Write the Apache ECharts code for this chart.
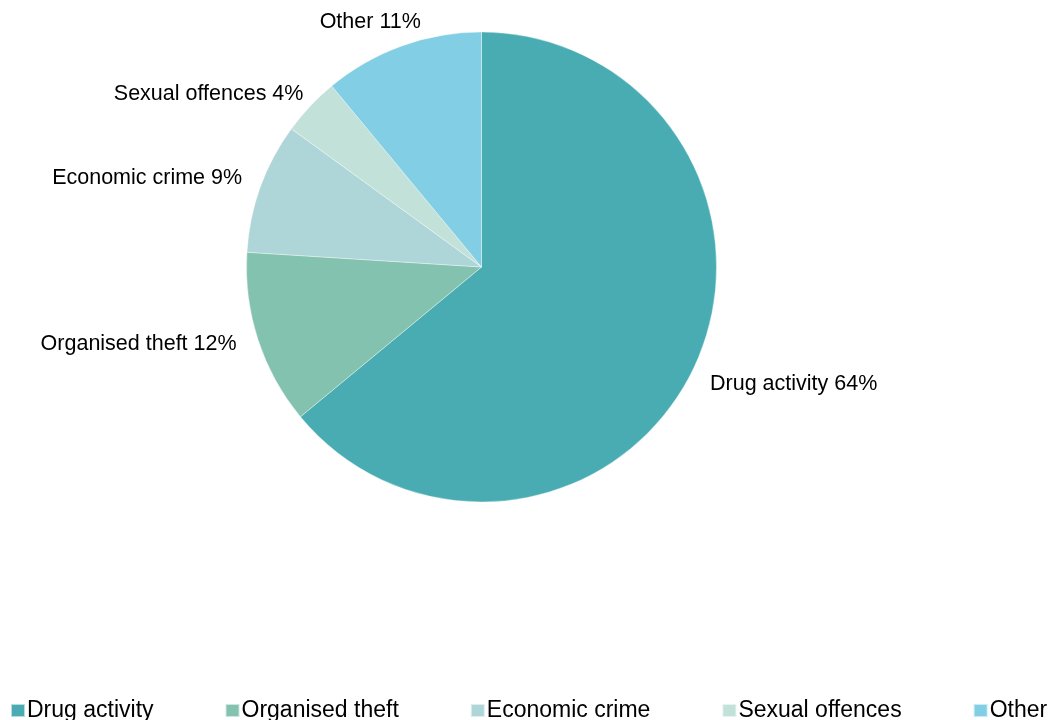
<!DOCTYPE html>
<html>
<head>
<meta charset="utf-8">
<script src="https://cdn.jsdelivr.net/npm/echarts@6/dist/echarts.min.js"></script>
<style>
html,body{margin:0;padding:0;background:#fff;}
#chart{width:1056px;height:720px;}
</style>
</head>
<body>
<div id="chart"></div>
<script>
const categories = ['Drug activity', 'Organised theft', 'Economic crime', 'Sexual offences', 'Other'];
const values = [64, 12, 9, 4, 11];
const colors = ['#48ACB2', '#83C2AF', '#AED5D8', '#C2E1D8', '#82CEE4'];
// small nudges so outside labels sit where the reference places them
const labelNudges = [[0, 12], [-5, 1], [-2, -5], [7, -4], [28, -13]];

const chart = echarts.init(document.getElementById('chart'), null, {renderer: 'canvas'});
const font = '"Liberation Sans", Arial, sans-serif';
chart.setOption({
  animation: false,
  color: colors,
  legend: {
    data: categories,
    left: 5,
    top: 694,
    itemWidth: 14,
    itemHeight: 13,
    itemGap: 71,
    icon: 'rect',
    textStyle: {fontFamily: font, fontSize: 23, color: '#000', padding: [0, 0, 0, -3]}
  },
  series: [{
    type: 'pie',
    center: [481.5, 267],
    radius: [0, 235],
    startAngle: 90,
    clockwise: true,
    avoidLabelOverlap: false,
    itemStyle: {borderColor: 'rgba(255,255,255,0.6)', borderWidth: 0.6},
    label: {
      show: true,
      position: 'outside',
      fontFamily: font,
      fontSize: 21.5,
      color: '#000',
      formatter: p => p.name + ' ' + p.value + '%'
    },
    labelLine: {show: false, length: 12, length2: 0},
    labelLayout: p => ({dx: labelNudges[p.dataIndex][0], dy: labelNudges[p.dataIndex][1]}),
    data: categories.map((c, i) => ({name: c, value: values[i]}))
  }]
});
</script>
</body>
</html>
